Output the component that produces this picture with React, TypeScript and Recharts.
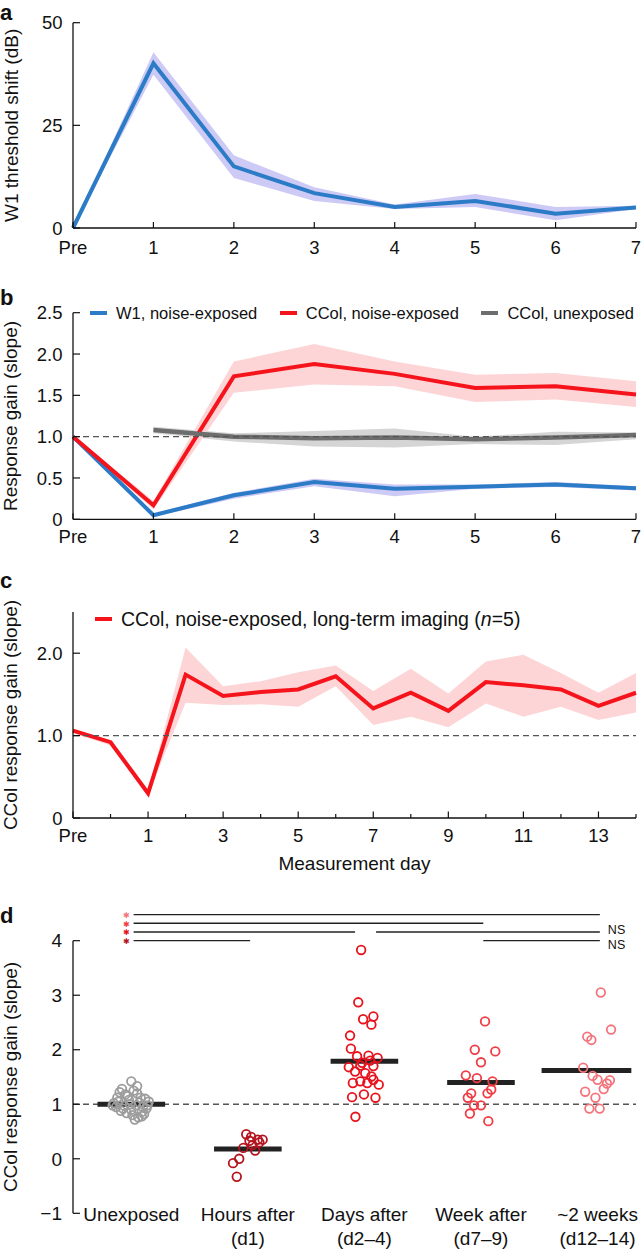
import React from "react";
import {
  ComposedChart,
  ScatterChart,
  Line,
  Area,
  Scatter,
  XAxis,
  YAxis,
  ReferenceLine,
  Legend,
} from "recharts";

const FONT = "'Liberation Sans', Arial, Helvetica, sans-serif";
const INK = "#111";

const BLUE = "#2b7bc6";
const BLUE_BAND = "#cdcaf6";
const RED = "#f5141c";
const RED_BAND = "#fdd5d7";
const GRAY = "#6d6d6d";
const GRAY_BAND = "#d5d5d5";

// ---- panel a: W1 threshold shift ----
const dayLabels = ["Pre", "1", "2", "3", "4", "5", "6", "7"];
const w1Shift = [0, 40.1, 15.0, 8.5, 5.1, 6.6, 3.5, 5.0];
const w1ShiftLow = [0, 37.3, 12.2, 6.6, 4.6, 5.1, 1.9, 4.6];
const w1ShiftHigh = [0, 42.8, 17.7, 9.9, 5.7, 8.3, 5.1, 5.4];

// ---- panel b: response gain ----
const seriesNamesB = ["W1, noise-exposed", "CCol, noise-exposed", "CCol, unexposed"];
const w1Gain = [1.0, 0.05, 0.29, 0.45, 0.37, 0.395, 0.42, 0.375];
const w1GainLow = [1.0, 0.03, 0.25, 0.4, 0.28, 0.37, 0.39, 0.35];
const w1GainHigh = [1.0, 0.07, 0.32, 0.49, 0.42, 0.42, 0.45, 0.4];
const ccolGain = [1.0, 0.17, 1.73, 1.88, 1.76, 1.59, 1.61, 1.51];
const ccolGainLow = [0.98, 0.12, 1.53, 1.63, 1.61, 1.42, 1.45, 1.36];
const ccolGainHigh = [1.02, 0.22, 1.91, 2.12, 1.91, 1.75, 1.77, 1.67];
const unexpGain = [null, 1.08, 1.0, 0.98, 0.99, 0.97, 0.99, 1.02];
const unexpLow = [null, 1.04, 0.94, 0.88, 0.87, 0.91, 0.9, 0.97];
const unexpHigh = [null, 1.12, 1.04, 1.07, 1.1, 1.0, 1.06, 1.05];

// ---- panel c: long-term imaging ----
const ltDays = [-1, 0, 1, 2, 3, 4, 5, 6, 7, 8, 9, 10, 11, 12, 13, 14];
const ltGain = [1.06, 0.92, 0.3, 1.74, 1.48, 1.53, 1.56, 1.72, 1.33, 1.52, 1.3, 1.65, 1.61, 1.56, 1.36, 1.52];
const ltLow = [1.03, 0.88, 0.28, 1.4, 1.37, 1.38, 1.35, 1.6, 1.13, 1.23, 1.1, 1.39, 1.23, 1.35, 1.19, 1.28];
const ltHigh = [1.08, 0.94, 0.33, 2.07, 1.6, 1.66, 1.77, 1.85, 1.54, 1.81, 1.51, 1.9, 1.98, 1.76, 1.52, 1.76];

// ---- panel d: grouped scatter (jitter offset, gain) ----
const groupLabels = [
  ["Unexposed", ""],
  ["Hours after", "(d1)"],
  ["Days after", "(d2\u20134)"],
  ["Week after", "(d7\u20139)"],
  ["~2 weeks", "(d12\u201314)"],
];
const groupColors = ["#9c9c9c", "#b4141e", "#e8121c", "#f03c44", "#f4747c"];
const unexposedPts = [
  [-0.15, 1.02], [-0.12, 1.12], [-0.1, 1.22], [-0.08, 1.28], [-0.05, 1.18], [0.0, 1.42],
  [0.05, 1.33], [0.02, 1.25], [-0.02, 1.08], [0.08, 1.12], [0.12, 1.1], [0.15, 1.05],
  [-0.13, 0.95], [-0.09, 0.88], [-0.04, 0.84], [0.01, 0.8], [0.06, 0.76], [0.03, 0.72],
  [0.09, 0.86], [0.13, 0.92], [-0.06, 0.97], [0.04, 0.98], [-0.11, 1.05], [0.07, 1.03],
  [0.1, 0.95], [-0.03, 1.15], [0.11, 0.82], [-0.07, 0.92], [0.0, 0.9], [0.14, 0.98],
  [-0.16, 0.98], [0.05, 1.2], [-0.01, 1.0], [0.09, 0.78],
];
const hoursPts = [
  [-0.014, 0.45], [0.028, 0.4], [0.014, 0.33], [0.085, 0.35], [0.127, 0.35], [0.099, 0.3],
  [0.063, 0.15], [-0.039, 0.2], [-0.074, 0.0], [-0.127, -0.08], [-0.095, -0.33], [0.04, 0.25],
];
const daysPts = [
  [-0.028, 3.83], [-0.053, 2.87], [-0.011, 2.56], [0.077, 2.61], [0.06, 2.46], [-0.123, 2.26],
  [-0.116, 2.02], [-0.063, 1.88], [0.035, 1.89], [0.113, 1.85], [-0.134, 1.68], [-0.035, 1.71],
  [0.077, 1.7], [0.007, 1.57], [0.06, 1.51], [-0.035, 1.42], [-0.099, 1.39], [0.025, 1.39],
  [0.123, 1.36], [0.077, 1.45], [-0.106, 1.13], [-0.004, 1.18], [0.095, 1.12], [-0.077, 0.77],
  [-0.02, 1.76], [0.05, 1.8], [-0.08, 1.6],
];
const weekPts = [
  [0.035, 2.52], [-0.053, 2.0], [0.123, 1.97], [0.0, 1.77], [-0.13, 1.53], [-0.035, 1.48],
  [0.099, 1.42], [-0.084, 1.2], [0.056, 1.2], [0.088, 1.27], [-0.113, 1.12], [0.0, 0.98],
  [-0.06, 0.98], [-0.095, 0.83], [0.063, 0.69],
];
const twoWeekPts = [
  [0.028, 3.05], [0.116, 2.37], [-0.088, 2.24], [-0.053, 2.18], [-0.123, 1.67], [-0.042, 1.52],
  [0.0, 1.45], [0.106, 1.44], [0.081, 1.38], [0.053, 1.28], [-0.106, 1.23], [-0.018, 1.12],
  [-0.07, 0.92], [0.018, 0.92],
];
const groupPts = [unexposedPts, hoursPts, daysPts, weekPts, twoWeekPts];
const groupMeans = [1.0, 0.18, 1.79, 1.4, 1.62];
const meanBarSpan = [
  [-0.29, 0.29], [-0.29, 0.29], [-0.29, 0.29], [-0.29, 0.29], [-0.48, 0.29],
];
// pairwise tests: groups a vs b, result
const comparisons = [
  { a: 1, b: 5, res: "*", row: 0 },
  { a: 1, b: 4, res: "*", row: 1 },
  { a: 1, b: 3, res: "*", row: 2 },
  { a: 3, b: 5, res: "NS", row: 2 },
  { a: 1, b: 2, res: "*", row: 3 },
  { a: 4, b: 5, res: "NS", row: 3 },
];
const SIG_ROW_Y = [4.48, 4.32, 4.16, 4.0];

// ---------- helpers ----------
const XTick = (p: any) => {
  const { x, y, payload, fmt, gap = 13, len = 6, fs = 18.5 } = p;
  const v = payload.value;
  const axisY = y - gap;
  const l = typeof len === "function" ? len(v) : len;
  const text = fmt(v);
  return (
    <g>
      {l > 0 && <line x1={x} x2={x} y1={axisY} y2={axisY - l} stroke={INK} strokeWidth={1.2} />}
      {text !== "" && (
        <text x={x} y={y} dy="0.71em" textAnchor="middle" fontSize={fs} fontFamily={FONT} fill={INK}>
          {text}
        </text>
      )}
    </g>
  );
};

const YTick = (p: any) => {
  const { x, y, payload, fmt, gap = 10.5, len = 7, fs = 18.5 } = p;
  const axisX = x + gap;
  return (
    <g>
      <line x1={axisX} x2={axisX + len} y1={y} y2={y} stroke={INK} strokeWidth={1.2} />
      <text x={x} y={y} dy="0.355em" textAnchor="end" fontSize={fs} fontFamily={FONT} fill={INK}>
        {fmt(payload.value)}
      </text>
    </g>
  );
};

const GroupTick = (p: any) => {
  const { x, y, payload } = p;
  const [l1, l2] = groupLabels[Math.round(payload.value) - 1] || ["", ""];
  return (
    <text x={x} y={y - 5.3} textAnchor="middle" fontSize={19} fontFamily={FONT} fill={INK}>
      <tspan x={x} dy="0.71em">{l1}</tspan>
      <tspan x={x} dy="1.25em">{l2}</tspan>
    </text>
  );
};

const YTitle = (p: any) => {
  const vb = p.viewBox || {};
  const cy = (vb.y ?? 0) + (vb.height ?? 0) / 2;
  const cx = p.cx0;
  return (
    <text
      x={cx}
      y={cy}
      dy="0.355em"
      transform={`rotate(-90 ${cx} ${cy})`}
      textAnchor="middle"
      fontSize={19}
      fontFamily={FONT}
      fill={INK}
    >
      {p.text}
    </text>
  );
};

const XTitle = (p: any) => {
  const vb = p.viewBox || {};
  const cx = (vb.x ?? 0) + (vb.width ?? 0) / 2;
  const cy = (vb.y ?? 0) + p.down;
  return (
    <text x={cx} y={cy} dy="0.355em" textAnchor="middle" fontSize={19} fontFamily={FONT} fill={INK}>
      {p.text}
    </text>
  );
};

const legendName = (name: string) => {
  const parts = name.split("(n=");
  if (parts.length < 2) return name;
  return (
    <>
      {parts[0]}(<i>n</i>={parts[1]}
    </>
  );
};

const makeLegend = (fs: number, gap: number, order: string[] = []) => (props: any) => {
  const items = (props.payload || [])
    .filter((e: any) => e.type !== "none")
    .slice()
    .sort((p: any, q: any) => order.indexOf(String(p.value)) - order.indexOf(String(q.value)));
  return (
    <div
      style={{
        display: "flex",
        alignItems: "center",
        fontFamily: FONT,
        fontSize: fs,
        lineHeight: "20px",
        color: INK,
        whiteSpace: "nowrap",
      }}
    >
      {items.map((e: any, i: number) => (
        <div key={i} style={{ display: "flex", alignItems: "center", marginRight: gap }}>
          <span
            style={{ display: "inline-block", width: 17, height: 4.5, background: e.color, marginRight: 9 }}
          />
          <span>{legendName(String(e.value))}</span>
        </div>
      ))}
    </div>
  );
};

const dayFmt = (v: number) => dayLabels[v] ?? "";
const ltFmt = (v: number) => (v === -1 ? "Pre" : Math.abs(v % 2) === 1 ? String(v) : "");
const oneDec = (v: number) => (v === 0 ? "0" : v.toFixed(1));
const intFmt = (v: number) => (v < 0 ? `\u2212${Math.abs(v)}` : String(v));

const AXIS = { stroke: INK, strokeWidth: 1.3 };
const W = 642;

export default function App() {
  const aRows = dayLabels.map((_, i) => ({
    x: i,
    y: w1Shift[i],
    band: [w1ShiftLow[i], w1ShiftHigh[i]],
  }));
  const bRows = dayLabels.map((_, i) => ({
    x: i,
    w1: w1Gain[i],
    w1Band: [w1GainLow[i], w1GainHigh[i]],
    cc: ccolGain[i],
    ccBand: [ccolGainLow[i], ccolGainHigh[i]],
    un: unexpGain[i],
    unBand: unexpGain[i] == null ? null : [unexpLow[i], unexpHigh[i]],
  }));
  const cRows = ltDays.map((d, i) => ({ x: d, y: ltGain[i], band: [ltLow[i], ltHigh[i]] }));

  const letterStyle = { fontFamily: FONT, fontWeight: 700, fontSize: 22, fill: INK } as const;

  return (
    <div style={{ position: "absolute", left: 0, top: 0, width: W, height: 1251, background: "#fff" }}>
      {/* a */}
      <div style={{ position: "absolute", left: 0, top: 0 }}>
        <ComposedChart width={W} height={270} data={aRows} margin={{ top: 22.7, right: 6, bottom: 12, left: 30 }}>
          <XAxis
            dataKey="x"
            type="number"
            domain={[0, 7]}
            ticks={[0, 1, 2, 3, 4, 5, 6, 7]}
            interval={0}
            height={30}
            axisLine={AXIS}
            tickLine={false}
            tickSize={0}
            tickMargin={13}
            tick={<XTick fmt={dayFmt} gap={13} />}
          />
          <YAxis
            type="number"
            domain={[0, 50]}
            ticks={[0, 25, 50]}
            width={43}
            axisLine={AXIS}
            tickLine={false}
            tickSize={0}
            tickMargin={10.5}
            tick={<YTick fmt={(v: number) => String(v)} />}
            label={<YTitle text="W1 threshold shift (dB)" cx0={11} />}
          />
          <Area dataKey="band" stroke="none" fill={BLUE_BAND} fillOpacity={1} isAnimationActive={false} legendType="none" activeDot={false} />
          <Line dataKey="y" stroke={BLUE} strokeWidth={4} dot={false} isAnimationActive={false} />
        </ComposedChart>
      </div>

      {/* b */}
      <div style={{ position: "absolute", left: 0, top: 280 }}>
        <ComposedChart width={W} height={275} data={bRows} margin={{ top: 32.7, right: 6, bottom: 5.7, left: 30 }}>
          <XAxis
            dataKey="x"
            type="number"
            domain={[0, 7]}
            ticks={[0, 1, 2, 3, 4, 5, 6, 7]}
            interval={0}
            height={30}
            axisLine={AXIS}
            tickLine={false}
            tickSize={0}
            tickMargin={11}
            tick={<XTick fmt={dayFmt} gap={11} />}
          />
          <YAxis
            type="number"
            domain={[0, 2.5]}
            ticks={[0, 0.5, 1, 1.5, 2, 2.5]}
            width={43}
            axisLine={AXIS}
            tickLine={false}
            tickSize={0}
            tickMargin={10.5}
            tick={<YTick fmt={oneDec} />}
            label={<YTitle text="Response gain (slope)" cx0={10} />}
          />
          <Legend
            layout="horizontal"
            verticalAlign="middle"
            align="center"
            content={makeLegend(16.5, 22.5, seriesNamesB)}
            wrapperStyle={{ top: 23, left: 90, width: "auto" }}
          />
          <Area dataKey="unBand" stroke="none" fill={GRAY_BAND} fillOpacity={1} isAnimationActive={false} legendType="none" activeDot={false} />
          <Area dataKey="ccBand" stroke="none" fill={RED_BAND} fillOpacity={1} isAnimationActive={false} legendType="none" activeDot={false} />
          <Area dataKey="w1Band" stroke="none" fill={BLUE_BAND} fillOpacity={1} isAnimationActive={false} legendType="none" activeDot={false} />
          <Line name={seriesNamesB[0]} dataKey="w1" stroke={BLUE} strokeWidth={4} dot={false} isAnimationActive={false} />
          <Line name={seriesNamesB[1]} dataKey="cc" stroke={RED} strokeWidth={4} dot={false} isAnimationActive={false} />
          <Line name={seriesNamesB[2]} dataKey="un" stroke={GRAY} strokeWidth={4.5} dot={false} isAnimationActive={false} />
          <ReferenceLine y={1} stroke="#555" strokeDasharray="6 4" strokeWidth={1.3} />
        </ComposedChart>
      </div>

      {/* c */}
      <div style={{ position: "absolute", left: 0, top: 560 }}>
        <ComposedChart width={W} height={320} data={cRows} margin={{ top: 52, right: 6, bottom: 7, left: 30 }}>
          <XAxis
            dataKey="x"
            type="number"
            domain={[-1, 14]}
            ticks={ltDays}
            interval={0}
            height={55}
            axisLine={AXIS}
            tickLine={false}
            tickSize={0}
            tickMargin={11}
            tick={<XTick fmt={ltFmt} gap={11} len={(v: number) => (Math.abs(v % 2) === 1 ? 6.5 : 4)} />}
            label={<XTitle text="Measurement day" down={45} />}
          />
          <YAxis
            type="number"
            domain={[0, 2.5]}
            ticks={[0, 1, 2]}
            width={43}
            axisLine={AXIS}
            tickLine={false}
            tickSize={0}
            tickMargin={10.5}
            tick={<YTick fmt={oneDec} />}
            label={<YTitle text="CCol response gain (slope)" cx0={10} />}
          />
          <Legend
            layout="horizontal"
            verticalAlign="middle"
            align="center"
            content={makeLegend(19.5, 0)}
            wrapperStyle={{ top: 49, left: 95, width: "auto" }}
          />
          <Area dataKey="band" stroke="none" fill={RED_BAND} fillOpacity={1} isAnimationActive={false} legendType="none" activeDot={false} />
          <Line
            name="CCol, noise-exposed, long-term imaging (n=5)"
            dataKey="y"
            stroke={RED}
            strokeWidth={4}
            dot={false}
            isAnimationActive={false}
          />
          <ReferenceLine y={1} stroke="#555" strokeDasharray="6 4" strokeWidth={1.3} />
        </ComposedChart>
      </div>

      {/* d */}
      <div style={{ position: "absolute", left: 0, top: 880 }}>
        <ScatterChart width={W} height={371} margin={{ top: 60.7, right: 6, bottom: 0, left: 30 }}>
          <XAxis
            dataKey="x"
            type="number"
            domain={[0.5, 5.33]}
            ticks={[1, 2, 3, 4, 5]}
            interval={0}
            height={37.7}
            axisLine={false}
            tickLine={false}
            tickSize={0}
            tickMargin={0}
            tick={<GroupTick />}
          />
          <YAxis
            dataKey="y"
            type="number"
            domain={[-1, 4]}
            ticks={[-1, 0, 1, 2, 3, 4]}
            width={43}
            axisLine={AXIS}
            tickLine={false}
            tickSize={0}
            tickMargin={11}
            tick={<YTick fmt={intFmt} gap={11} fs={19} />}
            label={<YTitle text="CCol response gain (slope)" cx0={10} />}
          />
          <ReferenceLine y={1} stroke="#555" strokeDasharray="6 4" strokeWidth={1.3} />
          {groupPts.map((pts, gi) => (
            <Scatter
              key={gi}
              data={pts.map(([dx, v]) => ({ x: gi + 1 + dx, y: v }))}
              isAnimationActive={false}
              shape={(s: any) => (
                <circle cx={s.cx} cy={s.cy} r={4.3} fill="none" stroke={groupColors[gi]} strokeWidth={1.8} />
              )}
            />
          ))}
          {groupMeans.map((m, gi) => (
            <ReferenceLine
              key={`m${gi}`}
              segment={[
                { x: gi + 1 + meanBarSpan[gi][0], y: m },
                { x: gi + 1 + meanBarSpan[gi][1], y: m },
              ]}
              stroke="#222"
              strokeWidth={5}
            />
          ))}
          {comparisons.map((c, ci) => {
            const isStar = c.res === "*";
            const x1 = isStar ? c.a + 0.02 : c.a + (c.a === 3 ? 0.1 : 0.02);
            const x2 = isStar && c.b === 3 ? c.b - 0.08 : c.b + 0.02;
            const yv = SIG_ROW_Y[c.row];
            return (
              <ReferenceLine
                key={`s${ci}`}
                ifOverflow="visible"
                segment={[
                  { x: x1, y: yv },
                  { x: x2, y: yv },
                ]}
                stroke="#222"
                strokeWidth={1.3}
                label={
                  isStar
                    ? { value: "\u2731", position: "left", offset: 4, fill: groupColors[c.b - 1], fontSize: 8, dy: 0.5, fontFamily: "'DejaVu Sans', sans-serif" }
                    : { value: "NS", position: "right", offset: 8, fill: INK, fontSize: 12.5, dy: c.row === 3 ? 4 : -2, fontFamily: FONT }
                }
              />
            );
          })}
        </ScatterChart>
      </div>

      <svg width={W} height={1251} style={{ position: "absolute", left: 0, top: 0, pointerEvents: "none" }}>
        <text x={0} y={20} {...letterStyle}>a</text>
        <text x={0} y={305} {...letterStyle}>b</text>
        <text x={0} y={588} {...letterStyle}>c</text>
        <text x={0} y={923} {...letterStyle}>d</text>
      </svg>
    </div>
  );
}
